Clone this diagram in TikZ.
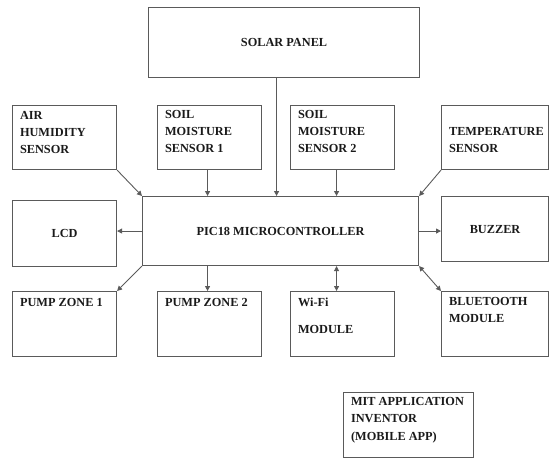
\documentclass[tikz,border=0pt]{standalone}
\usepackage{fontspec}
\setmainfont{Liberation Serif}
\usetikzlibrary{arrows.meta}
\definecolor{lc}{HTML}{5A5A5A}
\definecolor{tc}{HTML}{1A1A1A}
\newcommand\tltext[4]{\parbox[c][#2pt][t]{#1pt}{\vspace*{#3pt}\raggedright\leftskip=7.5pt\baselineskip=17pt\noindent #4\par}}
\begin{document}
\begin{tikzpicture}[x=1pt,y=-1pt,
  box/.style={draw=lc, line width=1.1pt, inner sep=0pt, anchor=north west, text=tc,
    font=\fontsize{12.3}{17}\selectfont\bfseries},
  arr/.style={draw=lc, line width=0.9pt, -{Triangle[length=5pt,width=5pt]}},
  darr/.style={draw=lc, line width=0.9pt, {Triangle[length=5pt,width=5pt]}-{Triangle[length=5pt,width=5pt]}}]
\useasboundingbox (0,0) rectangle (549,468);
\node[box, minimum width=271pt, minimum height=70pt] (solar) at (148,7) {SOLAR PANEL};
\node[box, minimum width=104pt, minimum height=64pt] (air) at (12,105) {\tltext{104}{64}{5.5}{AIR\\HUMIDITY\\SENSOR}};
\node[box, minimum width=104pt, minimum height=64pt] (soil1) at (157,105) {\tltext{104}{64}{5}{SOIL\\MOISTURE\\SENSOR 1}};
\node[box, minimum width=104pt, minimum height=64pt] (soil2) at (290,105) {\tltext{104}{64}{5}{SOIL\\MOISTURE\\SENSOR 2}};
\node[box, minimum width=107pt, minimum height=64pt] (temp) at (441,105) {\tltext{107}{64}{22}{TEMPERATURE\\SENSOR}};
\node[box, minimum width=104pt, minimum height=66pt] (lcd) at (12,200) {LCD};
\node[box, minimum width=276pt, minimum height=69pt] (micro) at (142,196) {PIC18 MICROCONTROLLER};
\node[box, minimum width=107pt, minimum height=65pt] (buzzer) at (441,196) {BUZZER};
\node[box, minimum width=104pt, minimum height=65pt] (pump1) at (12,291) {\tltext{104}{65}{6.5}{PUMP ZONE 1}};
\node[box, minimum width=104pt, minimum height=65pt] (pump2) at (157,291) {\tltext{104}{65}{6.5}{PUMP ZONE 2}};
\node[box, minimum width=104pt, minimum height=65pt] (wifi) at (290,291) {\tltext{104}{65}{6.5}{Wi-Fi\\[10pt]MODULE}};
\node[box, minimum width=107pt, minimum height=65pt] (bt) at (441,291) {\tltext{107}{65}{5.5}{BLUETOOTH\\MODULE}};
\node[box, minimum width=130pt, minimum height=65pt] (mit) at (343,392) {\tltext{130}{65}{5.3}{MIT APPLICATION\\INVENTOR\\[1pt](MOBILE APP)}};
% connectors
\draw[arr] ([xshift=-7.5pt]solar.south) -- ([xshift=-7.5pt]solar.south |- micro.north);
\draw[arr] ([xshift=-2pt]soil1.south) -- ([xshift=-2pt]soil1.south |- micro.north);
\draw[arr] ([xshift=-6pt]soil2.south) -- ([xshift=-6pt]soil2.south |- micro.north);
\draw[arr] (air.south east) -- (micro.north west);
\draw[arr] (temp.south west) -- (micro.north east);
\draw[arr] (micro.west) -- (lcd.east |- micro.west);
\draw[arr] (micro.east) -- (buzzer.west |- micro.east);
\draw[arr] (micro.south west) -- (pump1.north east);
\draw[arr] ([xshift=-2pt]pump2.north |- micro.south) -- ([xshift=-2pt]pump2.north);
\draw[darr] ([xshift=-6pt]wifi.north |- micro.south) -- ([xshift=-6pt]wifi.north);
\draw[darr] (micro.south east) -- (bt.north west);
\end{tikzpicture}
\end{document}
